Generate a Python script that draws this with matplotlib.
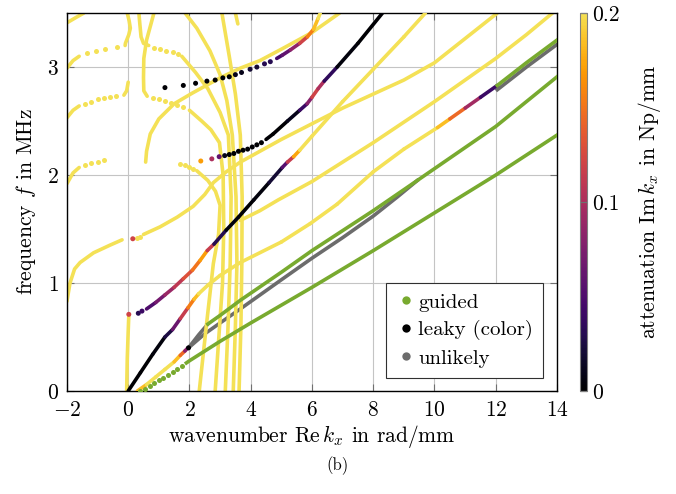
import numpy as np
import matplotlib
matplotlib.use("Agg")
import matplotlib.pyplot as plt
from matplotlib.colors import ListedColormap, Normalize
from matplotlib.collections import LineCollection
from matplotlib.lines import Line2D

plt.rcParams['font.family'] = 'serif'
plt.rcParams['font.serif'] = ['cmr10']
plt.rcParams['mathtext.fontset'] = 'cm'
plt.rcParams['axes.formatter.use_mathtext'] = True
plt.rcParams['font.size'] = 15.5

# ---------------- data (k in rad/mm, f in MHz, a = Im k in Np/mm) ----------------
# guided modes
ga_k = [1.9, 2.0, 3.0, 4.0, 6.0, 8.0, 10.0, 12.0, 14.0]
ga_f = [0.26, 0.28, 0.46, 0.63, 0.96, 1.30, 1.65, 2.00, 2.37]
ga_dots_k = [0.4, 0.55, 0.7, 0.85, 1.0, 1.15, 1.3, 1.45, 1.6, 1.75]
ga_dots_f = [0.0, 0.02, 0.05, 0.07, 0.1, 0.12, 0.15, 0.18, 0.2, 0.23]
gb_k = [2.6, 3.0, 3.66, 5.0, 6.0, 8.0, 9.44, 12.0, 14.0]
gb_f = [0.62, 0.70, 0.84, 1.10, 1.30, 1.67, 1.95, 2.45, 2.91]
gc_k = [12.05, 13.0, 14.0]
gc_f = [2.83, 3.04, 3.25]

# unlikely modes
u1_k = [1.97, 2.5, 3.0, 3.66, 5.0, 6.0, 7.0, 8.0, 8.8, 9.44]
u1_f = [0.40, 0.53, 0.63, 0.76, 1.03, 1.23, 1.42, 1.62, 1.80, 1.95]
u2_k = [1.97, 2.3, 2.6]
u2_f = [0.40, 0.52, 0.62]
u3_k = [12.05, 13.0, 14.0]
u3_f = [2.79, 3.00, 3.21]

# leaky modes with attenuation
lm_k = [0.0, 0.4, 0.8, 1.2, 1.45, 1.7, 1.95, 2.15, 2.3, 2.6, 3.0, 3.66, 5.0, 5.94, 6.82, 8.0, 9.0,
        10.1, 10.5, 11.0, 11.5, 12.05]
lm_f = [0.0, 0.17, 0.34, 0.50, 0.57, 0.67, 0.77, 0.85, 0.90, 0.98, 1.07, 1.19, 1.38, 1.55, 1.73, 2.03, 2.24,
        2.44, 2.52, 2.62, 2.72, 2.83]
lm_a = [0.0, 0.0, 0.0, 0.01, 0.04, 0.09, 0.14, 0.17, 0.2, 0.2, 0.2, 0.2, 0.2, 0.2, 0.2, 0.2, 0.2,
        0.2, 0.17, 0.12, 0.07, 0.01]

ub_dots_k = [0.33, 0.45]
ub_dots_f = [0.72, 0.74]
ub_dots_a = [0.03, 0.04]
ub_k = [0.6, 0.9, 1.2, 1.5, 1.8, 2.1, 2.35, 2.58, 2.8, 3.2, 3.6, 4.1, 4.6, 5.03, 5.2, 5.4, 5.6,
        6.0, 7.0, 8.0, 9.0, 9.7]
ub_f = [0.76, 0.82, 0.89, 0.96, 1.04, 1.12, 1.21, 1.30, 1.36, 1.49, 1.61, 1.77, 1.93, 2.07, 2.12, 2.17, 2.23,
        2.36, 2.68, 2.98, 3.28, 3.50]
ub_a = [0.04, 0.06, 0.08, 0.10, 0.12, 0.14, 0.16, 0.18, 0.05, 0.01, 0.0, 0.0, 0.01, 0.03, 0.08, 0.15, 0.2,
        0.2, 0.2, 0.2, 0.2, 0.2]

tl_dots_k = [1.2, 1.8, 2.2, 2.57, 2.84, 3.09, 3.3, 3.5, 3.7, 3.98, 4.2, 4.45, 4.64]
tl_dots_f = [2.81, 2.83, 2.85, 2.87, 2.88, 2.90, 2.91, 2.93, 2.95, 2.98, 3.00, 3.03, 3.05]
tl_dots_a = [0.0, 0.0, 0.0, 0.0, 0.0, 0.0, 0.0, 0.01, 0.01, 0.02, 0.02, 0.03, 0.03]
tl_k = [4.85, 5.03, 5.3, 5.6, 5.85, 6.05, 6.2, 6.27]
tl_f = [3.08, 3.11, 3.16, 3.22, 3.28, 3.35, 3.45, 3.50]
tl_a = [0.04, 0.05, 0.07, 0.10, 0.14, 0.17, 0.2, 0.2]

ml_dots_k = [2.37, 2.73, 2.97, 3.15, 3.3, 3.45, 3.6, 3.75, 3.9, 4.05, 4.2, 4.35]
ml_dots_f = [2.13, 2.15, 2.17, 2.18, 2.19, 2.20, 2.22, 2.23, 2.24, 2.26, 2.28, 2.30]
ml_dots_a = [0.17, 0.10, 0.06, 0.01, 0.0, 0.0, 0.0, 0.0, 0.0, 0.0, 0.0, 0.0]
ml_k = [4.5, 4.73, 5.2, 5.6, 5.84, 6.0, 6.2, 6.4, 6.82, 7.5, 8.3]
ml_f = [2.33, 2.38, 2.50, 2.60, 2.66, 2.72, 2.80, 2.87, 3.00, 3.22, 3.50]
ml_a = [0.0, 0.0, 0.0, 0.02, 0.06, 0.10, 0.14, 0.06, 0.01, 0.0, 0.0]

tip_k = [0.3, 0.6, 0.9, 1.2, 1.5, 1.7, 1.85, 1.95]
tip_f = [0.0, 0.06, 0.13, 0.20, 0.27, 0.33, 0.37, 0.40]
tip_a = [0.17, 0.2, 0.2, 0.2, 0.2, 0.17, 0.12, 0.04]

single_k = [0.02, 0.15, 1.97]
single_f = [0.71, 1.41, 0.40]
single_a = [0.12, 0.12, 0.0]

# strongly damped modes (yellow)
yellow_lines = [
    ([-0.05, -0.03, 0.0, 0.02], [0.0, 0.3, 0.55, 0.70]),
    ([-2.0, -1.9, -1.75, -1.57, -1.13, -0.6, -0.2], [0.83, 1.0, 1.13, 1.19, 1.28, 1.35, 1.40]),
    ([0.5, 1.04, 1.6, 2.12, 2.5, 2.78, 3.2, 3.66, 5.0, 7.0, 9.0, 10.0, 12.05],
     [1.45, 1.52, 1.61, 1.71, 1.82, 1.93, 2.03, 2.12, 2.33, 2.62, 2.88, 3.04, 3.50]),
    ([3.66, 4.3, 4.9, 6.0, 7.0, 8.0, 9.0, 10.0, 11.0, 12.0, 13.0, 13.85],
     [1.58, 1.67, 1.77, 1.94, 2.12, 2.30, 2.49, 2.68, 2.88, 3.08, 3.30, 3.50]),
    ([0.57, 0.6, 0.72, 1.0, 1.5, 2.1, 3.0, 3.66, 4.3, 5.03, 6.0, 6.9],
     [2.12, 2.22, 2.38, 2.52, 2.66, 2.76, 2.90, 2.99, 3.06, 3.17, 3.32, 3.50]),
    ([-2.0, -1.8, -1.6], [1.92, 2.02, 2.07]),
    ([-2.0, -1.8, -1.6], [2.53, 2.60, 2.64]),
    ([-0.14, -0.05, 0.0], [2.74, 2.78, 2.86]),
    ([-2.0, -1.8, -1.6], [2.99, 3.06, 3.10]),
    ([-0.1, -0.09, 0.02, 0.07, 0.03, -0.03], [3.20, 3.22, 3.30, 3.36, 3.43, 3.50]),
    ([-2.0, -1.7, -1.45], [3.41, 3.46, 3.50]),
    ([0.35, 0.38, 0.42, 0.5, 0.67], [3.50, 3.40, 3.28, 3.22, 3.20]),
    ([1.75, 2.2, 2.6, 3.0, 3.27, 3.36, 3.33, 3.26, 3.17], [3.10, 2.95, 2.80, 2.58, 2.37, 1.80, 1.18, 0.60, 0.0]),
    ([0.84, 0.6, 0.51, 0.5, 0.51, 0.62], [3.50, 3.25, 3.08, 2.90, 2.78, 2.73]),
    ([2.0, 2.4, 2.7, 2.98, 3.1, 3.12, 3.08, 2.96, 2.84], [2.60, 2.50, 2.42, 2.30, 2.00, 1.50, 1.00, 0.50, 0.0]),
    ([2.24, 2.6, 2.85, 3.0, 2.95, 2.78, 2.55, 2.32], [2.04, 1.95, 1.85, 1.72, 1.45, 1.18, 0.60, 0.0]),
    ([1.86, 2.24, 2.67, 3.0, 3.22, 3.4, 3.52, 3.55, 3.5, 3.43], [3.50, 3.36, 3.15, 2.93, 2.69, 2.37, 1.80, 1.18, 0.60, 0.0]),
    ([3.06, 3.3, 3.5, 3.66, 3.72, 3.71, 3.68, 3.62], [3.50, 3.10, 2.75, 2.37, 1.80, 1.18, 0.60, 0.0]),
    ([3.5, 3.58], [3.50, 3.40]),
]
yellow_dots = [
    ([0.3, 0.39], [1.42, 1.43]),
    ([-1.4, -1.2, -1.0, -0.8], [2.09, 2.11, 2.12, 2.14]),
    ([-1.4, -1.2, -1.0, -0.8, -0.6, -0.4], [2.66, 2.68, 2.70, 2.71, 2.72, 2.73]),
    ([-1.35, -1.05, -0.75, -0.36], [3.13, 3.15, 3.17, 3.19]),
    ([0.85, 1.05, 1.25, 1.47, 1.62], [3.18, 3.17, 3.15, 3.14, 3.12]),
    ([0.8, 1.0, 1.2, 1.4, 1.6, 1.8], [2.71, 2.70, 2.69, 2.67, 2.65, 2.63]),
    ([1.7, 1.85, 2.0, 2.12], [2.10, 2.09, 2.07, 2.06]),
]

green = '#78aa2f'
grey = '#6c6c6c'
cmap = ListedColormap(plt.cm.inferno(np.linspace(0, 0.92, 256)))
norm = Normalize(0, 0.2)
yellow = cmap(1.0)
LW = 2.6
MS = 13


def colored(ax, k, f, a, z=3):
    pts = np.column_stack([k, f])
    segs = np.stack([pts[:-1], pts[1:]], axis=1)
    vals = 0.5 * (np.asarray(a[:-1]) + np.asarray(a[1:]))
    lc = LineCollection(segs, cmap=cmap, norm=norm, linewidths=LW, capstyle='round', zorder=z)
    lc.set_array(vals)
    ax.add_collection(lc)


fig = plt.figure(figsize=(6.76, 4.94), dpi=100)
ax = fig.add_axes([0.099, 0.2085, 0.725, 0.765])

for k, f in yellow_lines:
    ax.plot(k, f, color=yellow, lw=LW, solid_capstyle='round', zorder=2)
for k, f in yellow_dots:
    ax.scatter(k, f, s=MS, color=yellow, lw=0, zorder=2)

ax.plot(u1_k, u1_f, color=grey, lw=LW, zorder=1.5)
ax.plot(u2_k, u2_f, color=grey, lw=LW, zorder=1.5)
ax.plot(u3_k, u3_f, color=grey, lw=LW, zorder=1.5)

colored(ax, lm_k, lm_f, lm_a)
colored(ax, ub_k, ub_f, ub_a)
colored(ax, tl_k, tl_f, tl_a)
colored(ax, ml_k, ml_f, ml_a)
colored(ax, tip_k, tip_f, tip_a)
for k, f, a in [(ub_dots_k, ub_dots_f, ub_dots_a), (tl_dots_k, tl_dots_f, tl_dots_a),
                (ml_dots_k, ml_dots_f, ml_dots_a), (single_k, single_f, single_a)]:
    ax.scatter(k, f, c=a, cmap=cmap, norm=norm, s=MS, lw=0, zorder=3.5)

ax.plot(ga_k, ga_f, color=green, lw=LW, zorder=4)
ax.scatter(ga_dots_k, ga_dots_f, s=MS, color=green, lw=0, zorder=4)
ax.plot(gb_k, gb_f, color=green, lw=LW, zorder=4)
ax.plot(gc_k, gc_f, color=green, lw=LW, zorder=4)

ax.set_xlim(-2, 14)
ax.set_ylim(0, 3.5)
ax.set_xticks(range(-2, 15, 2))
ax.set_yticks([0, 1, 2, 3])
ax.grid(True, color='#c4c4c4', lw=0.8, zorder=0)
ax.set_axisbelow(True)
ax.tick_params(direction='in', top=True, right=True, length=5, color='#707070')
ax.tick_params(axis='x', pad=7)
ax.tick_params(axis='y', pad=6)
for s in ax.spines.values():
    s.set_linewidth(1.0)
ax.set_xlabel(r'wavenumber $\mathrm{Re}\,k_x$ in rad/mm', labelpad=2)
ax.set_ylabel(r'frequency $f$ in MHz', labelpad=6)

handles = [Line2D([], [], ls='', marker='o', ms=6, color=green, mec='none'),
           Line2D([], [], ls='', marker='o', ms=6, color='black', mec='none'),
           Line2D([], [], ls='', marker='o', ms=6, color=grey, mec='none')]
leg = ax.legend(handles, ['guided', 'leaky (color)', 'unlikely'], loc='lower right',
                bbox_to_anchor=(0.972, 0.034), borderaxespad=0, fancybox=False, framealpha=1,
                edgecolor='#303030', handletextpad=0.15, handlelength=0.9, borderpad=0.5,
                labelspacing=0.42, fontsize=15)
leg.get_frame().set_linewidth(0.8)
leg.set_zorder(10)

cax = fig.add_axes([0.858, 0.2085, 0.0105, 0.765])
cb = fig.colorbar(plt.cm.ScalarMappable(norm=norm, cmap=cmap), cax=cax)
cb.set_ticks([0, 0.1, 0.2])
cb.set_ticklabels(['0', '0.1', '0.2'])
cb.outline.set_edgecolor('#808080')
cax.tick_params(direction='in', length=5, color='#707070', left=True, right=True)
cb.set_label(r'attenuation $\mathrm{Im}\,k_x$ in Np/mm', labelpad=12)

fig.text(0.5, 0.058, '(b)', ha='center', va='center', fontsize=12)

fig.savefig('out.png', dpi=100)
